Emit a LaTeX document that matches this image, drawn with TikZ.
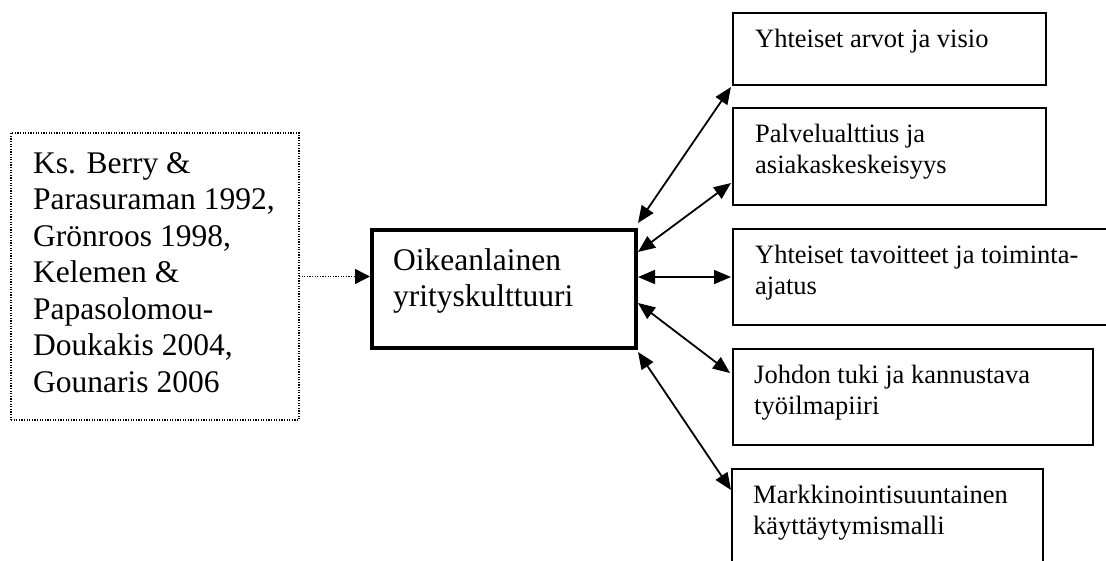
\documentclass[tikz,border=0pt]{standalone}
\usepackage{fontspec}
\setmainfont{Liberation Serif}
\usetikzlibrary{arrows.meta}
% top-aligned block of lines whose reference point is the first baseline
\newcommand{\boxlines}[2]{\parbox[t]{#1}{\raggedright #2}}
\begin{document}
\begin{tikzpicture}[x=1pt,y=-1pt,
  framebox/.style={draw, line width=1.6pt, inner sep=0pt, outer sep=0pt, anchor=north west},
  corebox/.style={draw, line width=3.8pt, inner sep=0pt, outer sep=0pt, anchor=north west},
  notebox/.style={draw, line width=1.4pt, dash pattern=on 1.2pt off 1.4pt, inner sep=0pt, outer sep=0pt, anchor=north west},
  bigtext/.style={inner sep=0pt, anchor=base west, font=\fontsize{31.5}{36.5}\selectfont},
  smalltext/.style={inner sep=0pt, anchor=base west, font=\fontsize{26.5}{31}\selectfont},
  link/.style={line width=1.8pt, {Triangle[length=17pt,width=14pt]}-{Triangle[length=17pt,width=14pt]}},
  source/.style={line width=1.4pt, dash pattern=on 1.2pt off 1.4pt, -{Triangle[length=15pt,width=15pt]}}
]
\useasboundingbox (0,0) rectangle (1106,560);
\clip (0,0) rectangle (1106,560);

% literature note on the left
\node[notebox, minimum width=288pt, minimum height=287pt] (note) at (11,133) {};
\node[bigtext] (notetext) at (33,173) {\boxlines{300pt}{Ks. Berry \&\\Parasuraman 1992,\\Grönroos 1998,\\Kelemen \&\\Papasolomou-\\Doukakis 2004,\\Gounaris 2006}};

% central concept
\node[corebox, minimum width=264pt, minimum height=118pt] (main) at (372,230) {};
\node[bigtext] (maintext) at (393,270) {\boxlines{260pt}{Oikeanlainen\\yrityskulttuuri}};

% factors on the right
\node[framebox, minimum width=313pt, minimum height=72pt] (b1) at (733,13) {};
\node[smalltext] (t1) at (755,47) {\boxlines{330pt}{Yhteiset arvot ja visio}};

\node[framebox, minimum width=313pt, minimum height=97pt] (b2) at (733,108) {};
\node[smalltext] (t2) at (755,142) {\boxlines{330pt}{Palvelualttius ja\\asiakaskeskeisyys}};

\node[framebox, minimum width=420pt, minimum height=96pt] (b3) at (733,229) {};
\node[smalltext] (t3) at (755,263) {\boxlines{360pt}{Yhteiset tavoitteet ja toiminta-\\ajatus}};

\node[framebox, minimum width=360pt, minimum height=96pt] (b4) at (733,349) {};
\node[smalltext] (t4) at (754,383) {\boxlines{340pt}{Johdon tuki ja kannustava\\työilmapiiri}};

\node[framebox, minimum width=311pt, minimum height=130pt] (b5) at (732,469) {};
\node[smalltext] (t5) at (753,503) {\boxlines{330pt}{Markkinointisuuntainen\\käyttäytymismalli}};

% connectors
\draw[source] (note.east) -- ([xshift=-2pt]main.west |- note.east);
\draw[link] ([xshift=2pt,yshift=7pt]main.north east) -- ([xshift=-2pt,yshift=-2pt]b1.south west);
\draw[link] ([xshift=2pt,yshift=-22pt]main.north east) -- ([xshift=-2pt,yshift=-75pt]b2.north west);
\draw[link] ([xshift=2pt]main.east |- b3.west) -- ([xshift=-2pt]b3.west);
\draw[link] ([xshift=2pt,yshift=-14pt]main.east) -- ([xshift=-3pt,yshift=-24pt]b4.north west);
\draw[link] ([xshift=2pt,yshift=-4pt]main.south east) -- ([xshift=-1pt,yshift=-21pt]b5.north west);
\end{tikzpicture}
\end{document}
